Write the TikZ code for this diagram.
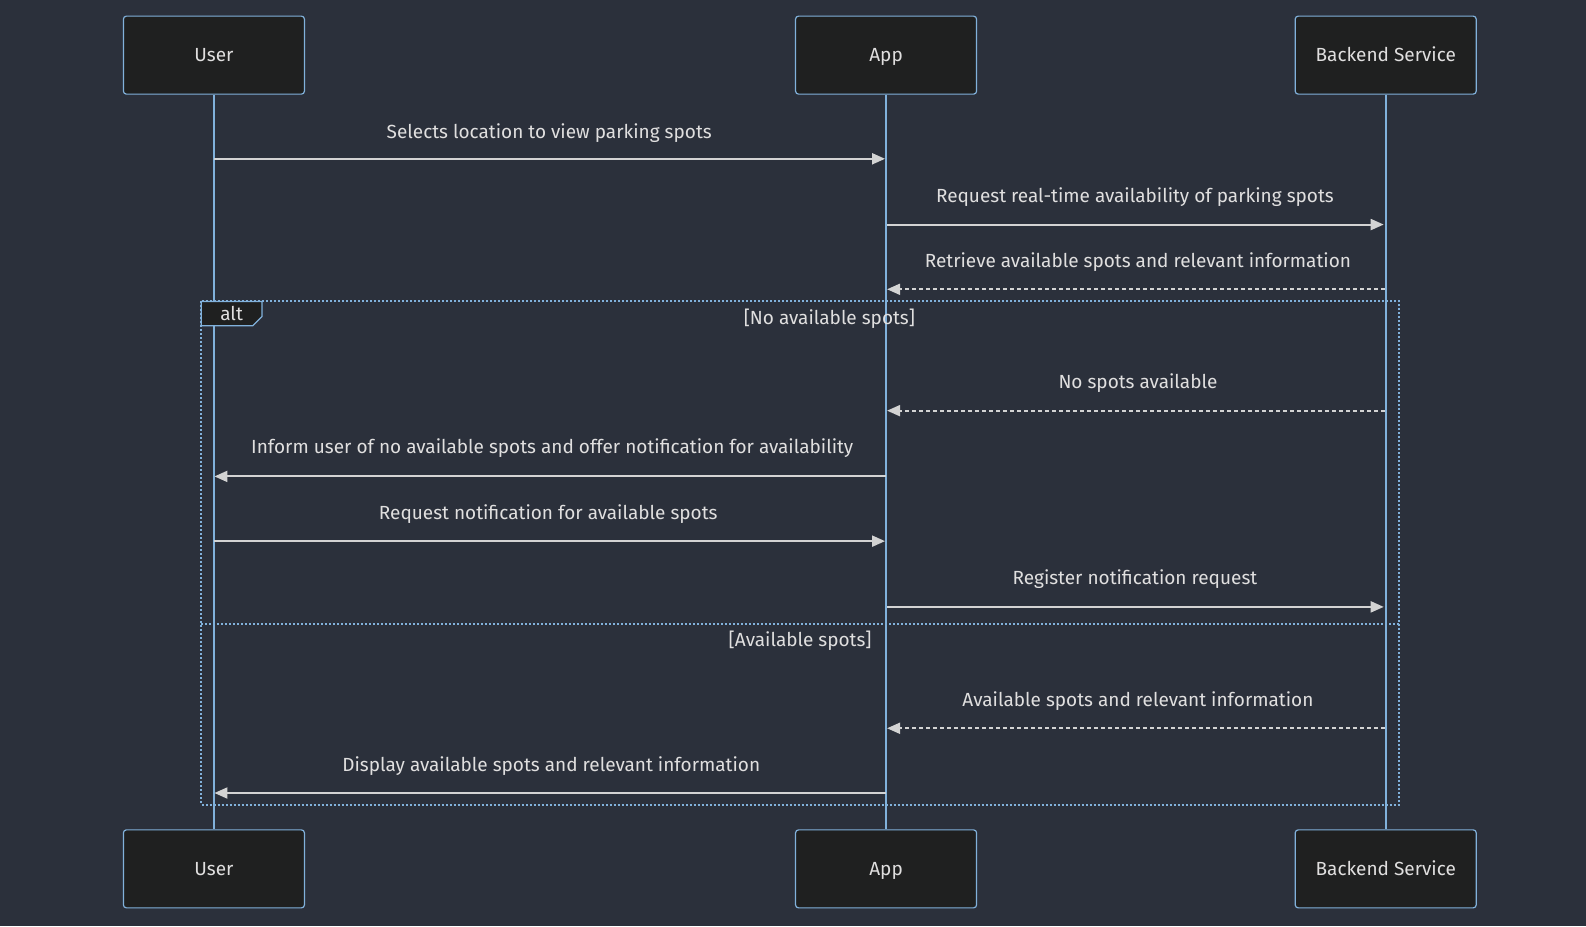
\documentclass[tikz,border=0pt]{standalone}
\usepackage{fontspec}
\setmainfont{Fira Sans}
\usetikzlibrary{arrows.meta}
\definecolor{bg}{HTML}{2B303B}
\definecolor{boxfill}{HTML}{1F2020}
\definecolor{lb}{HTML}{81B1DB}
\definecolor{msg}{HTML}{D3D3D3}
\definecolor{txt}{HTML}{E0DFDF}
\begin{document}
\begin{tikzpicture}[x=1.0114pt,y=-1.0114pt,
 actor/.style={draw=lb,fill=boxfill,rounded corners=3pt,minimum width=181pt,minimum height=78pt,text=txt,font=\fontsize{19}{22}\selectfont,line width=1.2pt,inner sep=0pt,text height=14pt,text depth=1pt},
 life/.style={draw=lb,line width=2.3pt},
 msgline/.style={draw=msg,line width=2pt,-{Triangle[length=13pt,width=11pt]}},
 reply/.style={msgline,dash pattern=on 4pt off 3pt},
 lbl/.style={text=txt,font=\fontsize{19}{22}\selectfont,inner sep=0pt,text height=13.5pt,text depth=4.5pt},
 frame/.style={draw=lb,line width=2.1pt,dash pattern=on 2pt off 2pt}]
\fill[bg] (0,0) rectangle (1568,915.6);
\useasboundingbox (0,0) rectangle (1568,915.6);
% actors
\node[actor] (ut) at (211.5,54.5) {User};
\node[actor] (at) at (876,54.5) {App};
\node[actor] (bt) at (1370,54.5) {Backend Service};
\node[actor] (ub) at (211.5,859) {User};
\node[actor] (ab) at (876,859) {App};
\node[actor] (bb) at (1370,859) {Backend Service};
% lifelines
\draw[life] (ut.south) -- (ub.north);
\draw[life] (at.south) -- (ab.north);
\draw[life] (bt.south) -- (bb.north);
% alt frame
\draw[frame] (199,298) rectangle (1383,796);
\draw[frame] (199,617) -- (1383,617);
\draw[draw=lb,fill=boxfill,line width=1.2pt] (199,298) -- (259,298) -- (259,313) -- (250,322) -- (199,322) -- cycle;
\node[lbl] (altlbl) at (229,312) {alt};
\node[lbl] (g1) at (820,316) {[No available spots]};
\node[lbl] (g2) at (791,635) {[Available spots]};
% message end points
\coordinate (u1) at (212,157); \coordinate (a1) at (875,157);
\coordinate (a2) at (877,222); \coordinate (b2) at (1368,222);
\coordinate (b3) at (1369,286); \coordinate (a3) at (877,286);
\coordinate (b4) at (1369,406); \coordinate (a4) at (877,406);
\coordinate (a5) at (876,471); \coordinate (u5) at (212,471);
\coordinate (u6) at (212,535); \coordinate (a6) at (875,535);
\coordinate (a7) at (877,600); \coordinate (b7) at (1368,600);
\coordinate (b8) at (1369,720); \coordinate (a8) at (877,720);
\coordinate (a9) at (876,784); \coordinate (u9) at (212,784);
% messages
\draw[msgline] (u1) -- (a1);
\node[lbl] (t1) at (543,132) {Selects location to view parking spots};
\draw[msgline] (a2) -- (b2);
\node[lbl] (t2) at (1122,196) {Request real-time availability of parking spots};
\draw[reply] (b3) -- (a3);
\node[lbl] (t3) at (1125,260) {Retrieve available spots and relevant information};
\draw[reply] (b4) -- (a4);
\node[lbl] (t4) at (1125,380) {No spots available};
\draw[msgline] (a5) -- (u5);
\node[lbl] (t5) at (546,444) {Inform user of no available spots and offer notification for availability};
\draw[msgline] (u6) -- (a6);
\node[lbl] (t6) at (542,509) {Request notification for available spots};
\draw[msgline] (a7) -- (b7);
\node[lbl] (t7) at (1122,573) {Register notification request};
\draw[reply] (b8) -- (a8);
\node[lbl] (t8) at (1125,694) {Available spots and relevant information};
\draw[msgline] (a9) -- (u9);
\node[lbl] (t9) at (545,758) {Display available spots and relevant information};
\end{tikzpicture}
\end{document}
